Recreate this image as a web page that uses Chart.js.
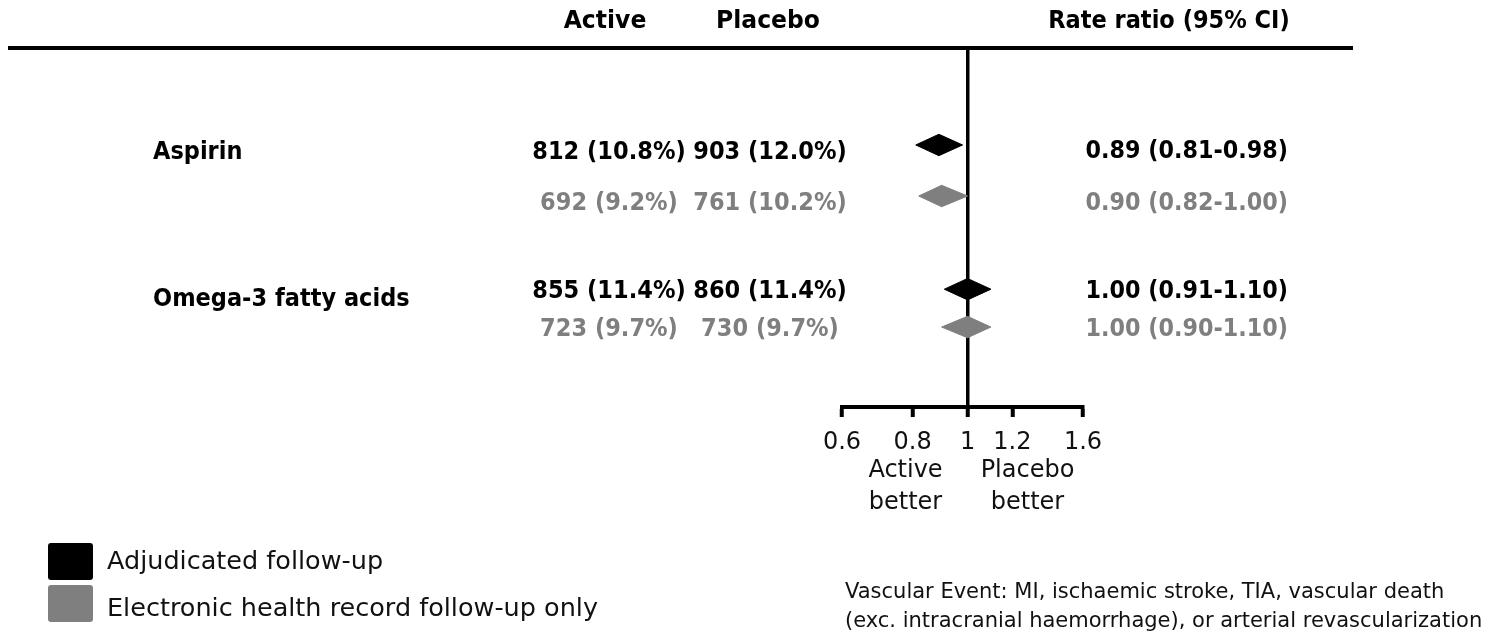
<!DOCTYPE html>
<html>
<head>
<meta charset="utf-8">
<script src="https://cdn.jsdelivr.net/npm/chart.js@4.4.1/dist/chart.umd.min.js"></script>
<style>
  html, body { margin: 0; padding: 0; background: #fff; overflow: hidden; }
  #wrap { width: 1505px; height: 637px; position: relative; }
  canvas { display: block; }
</style>
</head>
<body>
<div id="wrap"><canvas id="forest" width="1505" height="637"></canvas></div>
<script>
// ---- data ----
const groups = ['Aspirin', 'Omega-3 fatty acids'];
const followUp = ['Adjudicated follow-up', 'Electronic health record follow-up only'];
const rowGroup = [0, 0, 1, 1];
const rowFollowUp = [0, 1, 0, 1];
const activeEvents = [812, 692, 855, 723];
const activePct = [10.8, 9.2, 11.4, 9.7];
const placeboEvents = [903, 761, 860, 730];
const placeboPct = [12.0, 10.2, 11.4, 9.7];
const rateRatio = [0.89, 0.90, 1.00, 1.00];
const ciLower = [0.81, 0.82, 0.91, 0.90];
const ciUpper = [0.98, 1.00, 1.10, 1.10];
const xTicks = [0.6, 0.8, 1, 1.2, 1.6];

// ---- layout (vertical row slots on a 0-10 scale, top to bottom) ----
const TEXT_Y = [2.86, 4.31, 6.78, 7.82];
const DIAMOND_Y = [2.66, 4.09, 6.70, 7.76];
const GROUP_Y = [2.86, 7.0];
const DIAMOND_HALF = 0.30;
const COLORS = ['#000000', '#7f7f7f'];
const FONT = "'DejaVu Sans', sans-serif";

const fmtCount = (n, p) => `${n} (${p.toFixed(1)}%)`;
const fmtRatio = i => `${rateRatio[i].toFixed(2)} (${ciLower[i].toFixed(2)}-${ciUpper[i].toFixed(2)})`;

// one filled diamond per row: left/right tips at the CI, top/bottom at the estimate
const datasets = rateRatio.map((rr, i) => {
  const y = DIAMOND_Y[i];
  const c = COLORS[rowFollowUp[i]];
  return {
    label: groups[rowGroup[i]] + ' - ' + followUp[rowFollowUp[i]],
    data: [
      { x: ciLower[i], y: y },
      { x: rr, y: y - DIAMOND_HALF },
      { x: ciUpper[i], y: y },
      { x: rr, y: y + DIAMOND_HALF },
      { x: ciLower[i], y: y }
    ],
    showLine: true,
    fill: 'shape',
    backgroundColor: c,
    borderColor: c,
    borderWidth: 1,
    pointRadius: 0,
    tension: 0
  };
});

// text helper; 'tall' stretches glyphs vertically for the narrow table face
function txt(ctx, s, x, y, font, color, align, tall) {
  ctx.save();
  ctx.font = font;
  ctx.fillStyle = color;
  ctx.textAlign = align || 'left';
  ctx.textBaseline = 'middle';
  ctx.translate(x, y);
  ctx.scale(1, tall || 1);
  ctx.fillText(s, 0, 0);
  ctx.restore();
}

const tablePlugin = {
  id: 'forestTable',
  afterDraw(chart) {
    const ctx = chart.ctx;
    const xs = chart.scales.x;
    const ys = chart.scales.y;
    ctx.save();

    // column headers and rule
    txt(ctx, 'Active', 605, 22, `bold 23.5px ${FONT}`, '#000', 'center', 1.05);
    txt(ctx, 'Placebo', 768, 22, `bold 23.5px ${FONT}`, '#000', 'center', 1.05);
    txt(ctx, 'Rate ratio (95% CI)', 1169, 22, `bold 22.5px ${FONT}`, '#000', 'center', 1.08);
    ctx.fillStyle = '#000';
    ctx.fillRect(8, 46, 1345, 4);

    // group names
    groups.forEach((g, k) => {
      txt(ctx, g, 153, ys.getPixelForValue(GROUP_Y[k]), `bold 22.5px ${FONT}`, '#000', 'left', 1.1);
    });

    // per-row counts and ratios
    rateRatio.forEach((rr, i) => {
      const y = ys.getPixelForValue(TEXT_Y[i]);
      const c = COLORS[rowFollowUp[i]];
      txt(ctx, fmtCount(activeEvents[i], activePct[i]), 609, y, `bold 22.5px ${FONT}`, c, 'center', 1.1);
      txt(ctx, fmtCount(placeboEvents[i], placeboPct[i]), 770, y, `bold 22.5px ${FONT}`, c, 'center', 1.1);
      txt(ctx, fmtRatio(i), 1288, y, `bold 22.3px ${FONT}`, c, 'right', 1.1);
    });

    // direction labels under the axis
    const x1 = xs.getPixelForValue(1);
    txt(ctx, 'Active', x1 - 62, 471, `24px ${FONT}`, '#111', 'center');
    txt(ctx, 'better', x1 - 62, 503, `24px ${FONT}`, '#111', 'center');
    txt(ctx, 'Placebo', x1 + 60, 471, `24px ${FONT}`, '#111', 'center');
    txt(ctx, 'better', x1 + 60, 503, `24px ${FONT}`, '#111', 'center');

    // legend
    followUp.forEach((lab, k) => {
      const top = 543 + k * 42;
      ctx.fillStyle = COLORS[k];
      ctx.beginPath();
      ctx.roundRect(48, top, 45, 37, 3);
      ctx.fill();
      txt(ctx, lab, 107, 562 + k * 47, `25.5px ${FONT}`, '#111', 'left');
    });

    // footnote
    txt(ctx, 'Vascular Event: MI, ischaemic stroke, TIA, vascular death', 845, 593, `21px ${FONT}`, '#111', 'left');
    txt(ctx, '(exc. intracranial haemorrhage), or arterial revascularization', 845, 622, `21px ${FONT}`, '#111', 'left');

    ctx.restore();
  }
};

new Chart(document.getElementById('forest'), {
  type: 'scatter',
  data: { datasets },
  options: {
    responsive: false,
    animation: false,
    devicePixelRatio: 1,
    layout: { padding: { left: 842, right: 422, top: 50, bottom: 0 } },
    plugins: {
      legend: { display: false },
      tooltip: { enabled: false }
    },
    scales: {
      x: {
        type: 'logarithmic',
        position: 'bottom',
        min: 0.6,
        max: 1.6,
        afterBuildTicks: s => { s.ticks = xTicks.map(v => ({ value: v })); },
        afterFit: s => { s.height = 230; },
        ticks: {
          callback: v => String(v),
          autoSkip: false,
          maxRotation: 0,
          padding: 11,
          color: '#111',
          font: { family: FONT, size: 24 }
        },
        grid: {
          color: c => (c.tick && c.tick.value === 1 ? '#000' : 'rgba(0,0,0,0)'),
          lineWidth: 3.5,
          tickColor: '#000',
          tickWidth: 4,
          tickLength: 10
        },
        border: { display: true, color: '#000', width: 4 }
      },
      y: {
        type: 'linear',
        min: 0,
        max: 10,
        reverse: true,
        display: false
      }
    }
  },
  plugins: [tablePlugin]
});
</script>
</body>
</html>
